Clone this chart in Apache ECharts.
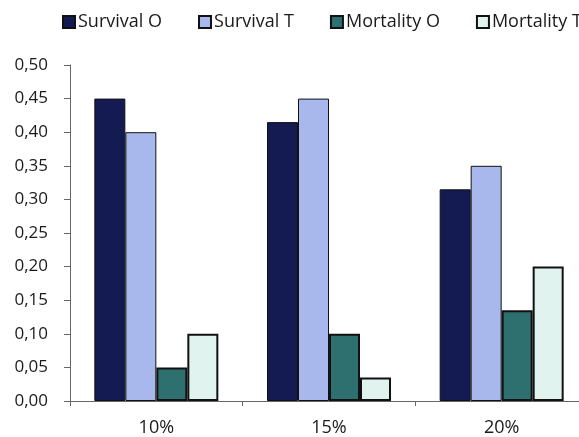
<!DOCTYPE html>
<html lang="en">
    <head>
        <meta charset="UTF-8"/>
        <script src="https://cdn.jsdelivr.net/npm/echarts@6/dist/echarts.min.js"></script>
        <title>Survival / Mortality</title>
    </head>
    <body style="margin:0;background:#fff;overflow:hidden">
        <!-- the last category runs past the right edge in the original, so the chart is wider than the window -->
        <div id="main" style="width:588px;height:437px"></div>
        <script type="text/javascript">

            // data
            var categories = ['10%', '15%', '20%'];
            var survivalO = [0.45, 0.415, 0.315];
            var survivalT = [0.40, 0.45, 0.35];
            var mortalityO = [0.05, 0.10, 0.135];
            var mortalityT = [0.10, 0.035, 0.20];

            var myChart = echarts.init(document.getElementById('main'));
            var font = 'Open Sans';

            function bar(name, data, color, border) {
                return {
                    name: name,
                    type: 'bar',
                    data: data,
                    barWidth: 31,
                    barGap: '0%',
                    itemStyle: {
                        color: color,
                        borderColor: '#111',
                        borderWidth: border
                    }
                };
            }

            var option = {
                backgroundColor: '#fff',
                animation: false,
                legend: {
                    top: 13,
                    left: 62,
                    width: 800,
                    padding: 0,
                    itemWidth: 12,
                    itemHeight: 12,
                    itemGap: 36,
                    icon: 'rect',
                    textStyle: {fontFamily: font, fontSize: 18, color: '#1a1a1a', padding: [0, 0, 0, -2]}
                },
                grid: {
                    left: 70,
                    top: 65,
                    right: 0,
                    height: 336
                },
                xAxis: {
                    type: 'category',
                    data: categories,
                    axisLine: {lineStyle: {color: '#666'}},
                    axisTick: {show: true, length: 5, lineStyle: {color: '#666'}},
                    axisLabel: {fontFamily: font, fontSize: 18, color: '#1a1a1a', margin: 18}
                },
                yAxis: {
                    type: 'value',
                    min: 0,
                    max: 0.5,
                    interval: 0.05,
                    splitLine: {show: false},
                    axisLine: {show: true, lineStyle: {color: '#666'}},
                    axisTick: {show: true, length: 6, lineStyle: {color: '#666'}},
                    axisLabel: {
                        fontFamily: font, fontSize: 17, color: '#1a1a1a', margin: 22,
                        formatter: function (v) { return v.toFixed(2).replace('.', ','); }
                    }
                },
                series: [
                    bar('Survival O', survivalO, '#141a52', 1),
                    bar('Survival T', survivalT, '#a8b8ec', 1),
                    bar('Mortality O', mortalityO, '#2e6f70', 2),
                    bar('Mortality T', mortalityT, '#e1f3ee', 2)
                ]
            };

            myChart.setOption(option);

        </script>
    </body>
</html>
